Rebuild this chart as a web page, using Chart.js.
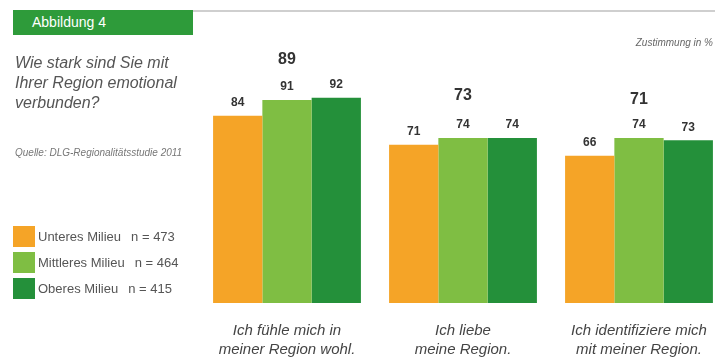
<!DOCTYPE html>
<html><head><meta charset="utf-8">
<script src="https://cdn.jsdelivr.net/npm/chart.js@4"></script>
<style>
html,body{margin:0;padding:0;width:715px;height:360px;overflow:hidden;background:#fff;font-family:"Liberation Sans",Arial,sans-serif;}
#wrap{position:absolute;left:0;top:0;width:730px;height:360px;}
#hdr{position:absolute;left:13px;top:10px;width:180px;height:25px;background:#2E9B3A;color:#fff;font-size:14px;line-height:25px;padding-left:19px;box-sizing:border-box;}
#rule{position:absolute;left:193px;top:10px;width:522px;height:2px;background:#cfcfcf;}
#q{position:absolute;left:15px;top:53px;font-size:16px;line-height:20px;font-style:italic;color:#555;}
#src{position:absolute;left:15px;top:147px;font-size:10px;font-style:italic;color:#777;}
#unit{position:absolute;right:2px;top:37px;font-size:10px;font-style:italic;color:#666;}
#legend{position:absolute;left:13px;top:223px;}
.li{display:flex;align-items:center;height:26px;font-size:13px;color:#555;}
.sw{width:22px;height:21px;margin-right:3px;}
.n{margin-left:10px;}
</style></head>
<body>
<div id="wrap"><canvas id="c" width="730" height="360"></canvas></div>
<div id="hdr">Abbildung 4</div>
<div id="rule"></div>
<div id="q">Wie stark sind Sie mit<br>Ihrer Region emotional<br>verbunden?</div>
<div id="src">Quelle: DLG-Regionalitätsstudie 2011</div>
<div id="unit">Zustimmung in %</div>
<div id="legend"></div>
<script>
const categories = [
  ["Ich fühle mich in", "meiner Region wohl."],
  ["Ich liebe", "meine Region."],
  ["Ich identifiziere mich", "mit meiner Region."]
];
const seriesNames = ["Unteres Milieu", "Mittleres Milieu", "Oberes Milieu"];
const seriesN = [473, 464, 415];
const unteres = [84, 71, 66];
const mittleres = [91, 74, 74];
const oberes = [92, 74, 73];
const totals = [89, 73, 71];
const colors = ["#F5A427", "#7FBE43", "#24903A"];

const seriesValues = [unteres, mittleres, oberes];

const legend = document.getElementById('legend');
seriesNames.forEach((n, i) => {
  const d = document.createElement('div'); d.className = 'li';
  d.innerHTML = '<div class="sw" style="background:' + colors[i] + '"></div><span>' + n + '</span><span class="n">n = ' + seriesN[i] + '</span>';
  legend.appendChild(d);
});

const labelPlugin = {
  id: 'labels',
  afterDatasetsDraw(chart) {
    const ctx = chart.ctx;
    ctx.save();
    ctx.textAlign = 'center';
    ctx.textBaseline = 'middle';
    ctx.fillStyle = '#333';
    ctx.font = 'bold 12px "Liberation Sans", Arial, sans-serif';
    chart.data.datasets.forEach((ds, di) => {
      chart.getDatasetMeta(di).data.forEach((el, i) => {
        ctx.fillText(ds.data[i], el.x, el.y - 13);
      });
    });
    ctx.font = 'bold 16px "Liberation Sans", Arial, sans-serif';
    const xs = chart.scales.x, ys = chart.scales.y;
    totals.forEach((t, i) => {
      ctx.fillText(t, xs.getPixelForValue(i), ys.getPixelForValue(t) - 45);
    });
    ctx.restore();
  }
};

new Chart(document.getElementById('c'), {
  type: 'bar',
  data: {
    labels: categories,
    datasets: seriesNames.map((n, i) => ({
      label: n, data: seriesValues[i], backgroundColor: colors[i],
      borderWidth: 0, categoryPercentage: 0.84, barPercentage: 1.0
    }))
  },
  options: {
    responsive: false, animation: false,
    layout: { padding: { left: 199, right: 3, top: 80, bottom: 0 } },
    plugins: { legend: { display: false }, tooltip: { enabled: false } },
    scales: {
      y: { display: false, min: 0, max: 100 },
      x: {
        afterFit(scale) { scale.height = 57; },
        grid: { display: false, drawTicks: false }, border: { display: false },
        ticks: { color: '#444', padding: 18, maxRotation: 0, autoSkip: false,
          font: { family: '"Liberation Sans", Arial, sans-serif', size: 15, style: 'italic', lineHeight: 1.27 } }
      }
    }
  },
  plugins: [labelPlugin]
});
</script>
</body></html>
